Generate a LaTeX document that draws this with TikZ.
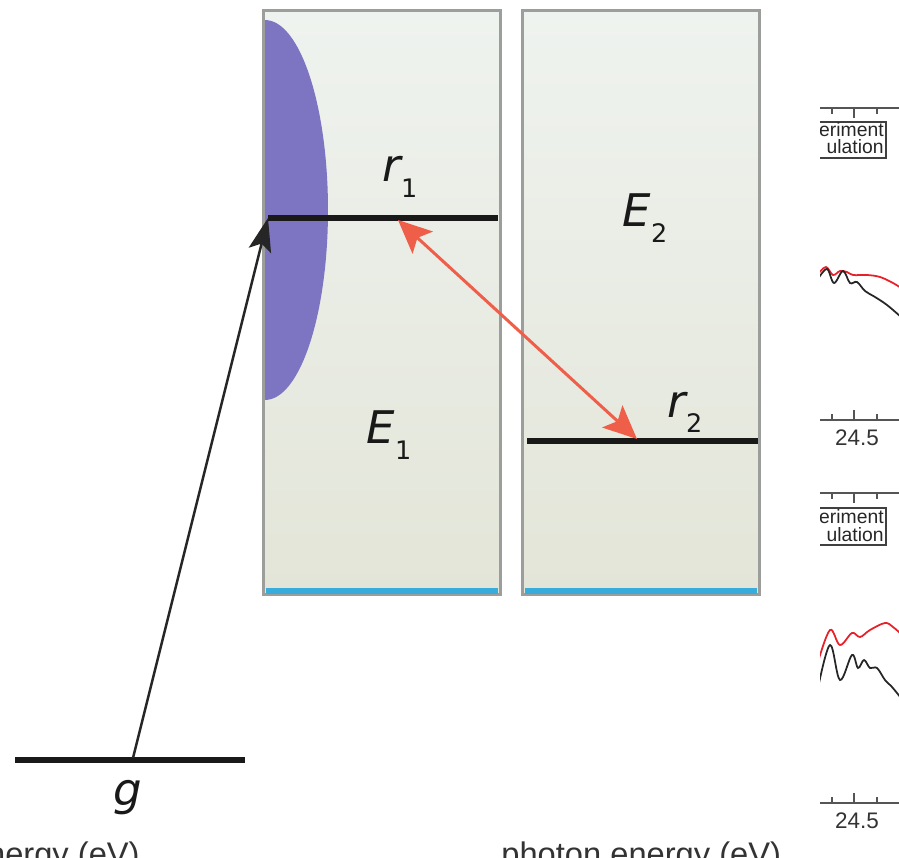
\documentclass[tikz,border=0pt]{standalone}
\usepackage{fontspec}
\usepackage{tikz}
\usetikzlibrary{arrows.meta,positioning}

\newfontfamily\lblfont{DejaVu Sans}
\newfontfamily\plotfont{Liberation Sans}

\definecolor{bandtop}{HTML}{EFF3EF}
\definecolor{bandbot}{HTML}{E3E5D8}
\definecolor{bandedge}{HTML}{9C9E9C}
\definecolor{lobe}{HTML}{7D74C2}
\definecolor{floorblue}{HTML}{38ACDB}
\definecolor{transred}{HTML}{EE5E48}
\definecolor{specred}{HTML}{E8202A}
\definecolor{axgray}{HTML}{555555}

% level label with a lowered upright index
\newcommand{\lvlname}[2]{{\itshape #1}\raisebox{-0.32cm}{\fontsize{14.5}{15}\selectfont\upshape #2}}

\begin{document}
\begin{tikzpicture}[
  x=0.02cm, y=-0.02cm,
  band/.style={draw=bandedge, line width=1.7pt, top color=bandtop, bottom color=bandbot,
    minimum width=4.76cm, minimum height=11.7cm, inner sep=0pt},
  level/.style={line width=3.1pt, black!90},
  lbl/.style={font=\lblfont\fontsize{25.6}{28}\selectfont, text=black!90, inner sep=0pt, anchor=base},
  pump/.style={-{Stealth[length=19pt, width=13pt, inset=4pt]}, line width=1.4pt, black!85},
  trans/.style={{Stealth[length=19pt, width=17pt, inset=4pt]}-{Stealth[length=19pt, width=17pt, inset=4pt]},
    line width=1.7pt, transred},
  axis/.style={axgray, line width=1pt},
  legbox/.style={draw=black!75, line width=0.8pt},
  ticklbl/.style={font=\plotfont\fontsize{12.8}{13}\selectfont, text=black!80, inner sep=0pt, anchor=base},
  legtxt/.style={font=\plotfont\fontsize{11}{11}\selectfont, text=black!85, inner sep=0pt, anchor=base east},
  axlbl/.style={font=\plotfont\fontsize{18.6}{20}\selectfont, text=black!80, inner sep=0pt}
]
  \useasboundingbox (0,0) rectangle (899,858);
  \clip (0,0) rectangle (899,858);

  % the two bands
  \node[band] (band1) at (382,302.5) {};
  \node[band] (band2) at (641,302.5) {};

  % occupied part of the first band
  \begin{scope}
    \clip (265,0) rectangle (340,600);
    \fill[lobe] (265,210) ellipse [x radius=1.26cm, y radius=3.8cm];
  \end{scope}

  % band floors
  \draw[floorblue, line width=3.4pt] (266,591) -- (498,591);
  \draw[floorblue, line width=3.4pt] (525,591) -- (757,591);

  % levels
  \coordinate (r1a) at (268,218);
  \coordinate (r1b) at (498,218);
  \coordinate (r2a) at (527,441);
  \coordinate (r2b) at (758,441);
  \coordinate (ga) at (15,760);
  \coordinate (gb) at (245,760);
  \draw[level] (r1a) -- (r1b);
  \draw[level] (r2a) -- (r2b);
  \draw[level] (ga) -- (gb);

  % transitions
  \coordinate (gp) at (133,758);
  \coordinate (r1t) at (398,220);
  \coordinate (r2t) at (637,439);
  \draw[pump] (gp) -- (r1a);
  \draw[trans] (r1t) -- (r2t);

  % labels
  \node[lbl] (lr1) at (400,182) {\lvlname{r}{1}};
  \node[lbl] (le1) at (389,443) {\lvlname{E}{1}};
  \node[lbl] (le2) at (645,227) {\lvlname{E}{2}};
  \node[lbl] (lr2) at (685,417) {\lvlname{r}{2}};
  \node[lbl] (lg) at (128,805) {\itshape g};

  % pieces of the spectra at the right edge
  \begin{scope}
    \clip (820,0) rectangle (899,858);
    \foreach \ay/\dir in {108/1,420/-1,493/1,803/-1} {
      \draw[axis] (820,\ay) -- (899,\ay);
      \foreach \t/\l in {832/6,854/10,877/6}
        \draw[axis] (\t,\ay) -- (\t,\ay+\dir*\l);
    }
    \draw[legbox] (810,122) rectangle (886,158);
    \draw[legbox] (810,508) rectangle (886,545);
    \node[legtxt] (leg1a) at (884,137) {eriment};
    \node[legtxt] (leg1b) at (884,154) {ulation};
    \node[legtxt] (leg2a) at (884,523) {eriment};
    \node[legtxt] (leg2b) at (884,541) {ulation};
    \node[ticklbl] (tk1) at (857,445) {24.5};
    \node[ticklbl] (tk2) at (857,828) {24.5};

    \draw[specred, line width=1pt] plot[smooth, tension=0.6] coordinates
      {(818,274) (826,267) (833,275) (840,271) (847,272) (853,275) (867,275) (880,277) (893,283) (901,288)};
    \draw[black!85, line width=1pt] plot[smooth, tension=0.6] coordinates
      {(818,279) (827,269) (834,283) (843,271) (850,283) (857,282) (865,291) (875,297) (887,305) (901,317)};
    \draw[specred, line width=1pt] plot[smooth, tension=0.6] coordinates
      {(818,662) (830,630) (840,645) (852,633) (860,637) (870,630) (885,623) (893,627) (901,634)};
    \draw[black!85, line width=1pt] plot[smooth, tension=0.6] coordinates
      {(818,688) (830,645) (840,680) (852,655) (858,668) (864,660) (870,668) (877,668) (885,680) (892,687) (901,698)};
  \end{scope}

  % axis titles cut by the lower edge
  \node[axlbl, anchor=base east] (xt1) at (140,865) {nergy (eV)};
  \node[axlbl, anchor=base west] (xt2) at (501,865) {photon energy (eV)};
\end{tikzpicture}
\end{document}
